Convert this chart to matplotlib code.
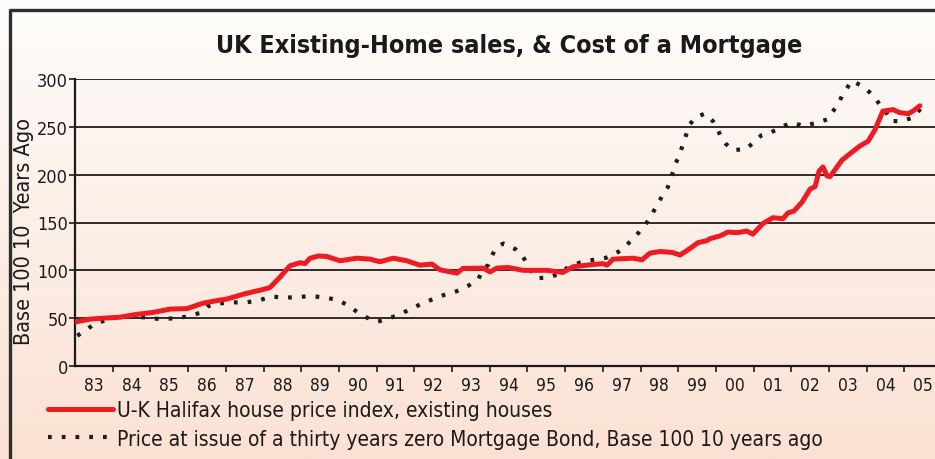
import numpy as np
import matplotlib
matplotlib.use('Agg')
import matplotlib.pyplot as plt
from matplotlib import font_manager as fm

# ---------------- data ----------------
red_t = [1983.00, 1983.40, 1983.74, 1984.19, 1984.64, 1985.07, 1985.52, 1985.97,
         1986.40, 1986.71, 1987.03, 1987.46, 1987.77, 1987.99, 1988.17, 1988.44,
         1988.70, 1988.97, 1989.10, 1989.23, 1989.45, 1989.68, 1990.03, 1990.48,
         1990.82, 1991.09, 1991.44, 1991.80, 1992.15, 1992.47, 1992.68, 1993.13,
         1993.29, 1993.82, 1994.01, 1994.19, 1994.49, 1994.88, 1995.52, 1995.94,
         1996.21, 1996.66, 1997.01, 1997.11, 1997.27, 1997.80, 1998.04, 1998.25,
         1998.52, 1998.84, 1999.05, 1999.31, 1999.53, 1999.76, 1999.84, 2000.11,
         2000.32, 2000.56, 2000.82, 2000.98, 2001.25, 2001.51, 2001.78, 2001.91,
         2002.07, 2002.28, 2002.50, 2002.63, 2002.74, 2002.84, 2002.95, 2003.03,
         2003.34, 2003.56, 2003.82, 2004.04, 2004.22, 2004.43, 2004.62, 2004.70,
         2004.88, 2005.10, 2005.23, 2005.41]
red_vals = [46, 49, 50, 51, 54, 56, 59.5, 60,
            65.7, 68, 70, 75, 78, 80, 82, 93,
            104.7, 108, 107, 112.5, 115, 114.5, 110, 112.7,
            111.7, 109, 112.7, 110, 105.4, 106.5, 100.6, 97,
            102, 102.3, 98.4, 102.3, 103, 100, 100, 97.8,
            103.7, 105.8, 107, 105.4, 111.7, 112.7, 111, 118,
            119.7, 118.7, 116, 122.8, 129, 131, 133, 136,
            140, 139.4, 141, 137.8, 149, 155, 154, 160,
            162, 171, 185, 187.5, 204, 208, 198.6, 198,
            215, 222, 230, 235, 247, 266.5, 267.5, 268,
            264.8, 263.7, 266.5, 272]

bond_t = [1983.06, 1983.31, 1983.53, 1983.87, 1984.19, 1984.52, 1984.88, 1985.25,
          1985.61, 1985.94, 1986.30, 1986.51, 1986.82, 1987.18, 1987.55, 1987.91,
          1988.22, 1988.57, 1988.94, 1989.29, 1989.68, 1990.00, 1990.28, 1990.50,
          1990.75, 1991.02, 1991.34, 1991.64, 1991.94, 1992.22, 1992.50, 1992.80,
          1993.12, 1993.43, 1993.70, 1993.80, 1993.96, 1994.05, 1994.16, 1994.36,
          1994.69, 1994.88, 1994.98, 1995.09, 1995.26, 1995.58, 1995.88, 1996.10,
          1996.40, 1996.75, 1997.08, 1997.41, 1997.61, 1997.81, 1997.97, 1998.13,
          1998.27, 1998.49, 1998.59, 1998.72, 1998.80, 1998.93, 1999.02, 1999.09,
          1999.16, 1999.31, 1999.46, 1999.71, 1999.92, 2000.04, 2000.13, 2000.26,
          2000.44, 2000.79, 2001.01, 2001.20, 2001.48, 2001.75, 2002.01, 2002.34,
          2002.67, 2002.96, 2003.09, 2003.25, 2003.34, 2003.47, 2003.60, 2003.87,
          2004.07, 2004.25, 2004.37, 2004.51, 2004.64, 2004.95, 2005.24, 2005.41,
          2005.52]
bond_vals = [31.6, 38, 44.5, 48.3, 51.5, 51.5, 50.8, 49,
             49.8, 51.5, 55.3, 62.3, 65.4, 66.5, 66.5, 69,
             72.7, 71.3, 72.3, 73, 71.3, 68.6, 62.3, 56,
             50.4, 46.2, 50, 54.3, 60.5, 65.4, 70, 74.4,
             78.1, 83.8, 90.8, 99.5, 105.8, 114.5, 122.9, 128,
             122, 114.5, 107.5, 99.5, 91.8, 92.6, 97, 104,
             108.2, 111, 113, 119.3, 125.6, 133.3, 140.2, 147.5,
             156.5, 171.5, 179, 186.5, 195, 211.6, 219.5, 227.5,
             236, 252.6, 260, 263.8, 256, 248, 239.8, 232.4,
             225.8, 226.5, 234, 241, 244.6, 250, 254.4, 250.8,
             254.4, 257.8, 265.5, 274, 282, 290, 298, 293,
             286.4, 278.7, 271.7, 265.5, 256, 256, 260, 268,
             275]

year_ticks = list(range(1984, 2006))
label_years = list(range(1983, 2006))
year_labels = ['83', '84', '85', '86', '87', '88', '89', '90', '91', '92', '93', '94',
               '95', '96', '97', '98', '99', '00', '01', '02', '03', '04', '05']
y_ticks = [0, 50, 100, 150, 200, 250, 300]

title = 'UK Existing-Home sales, & Cost of a Mortgage'
ylabel = 'Base 100 10  Years Ago'
red_label = 'U-K Halifax house price index, existing houses'
bond_label = 'Price at issue of a thirty years zero Mortgage Bond, Base 100 10 years ago'

# ---------------- fonts ----------------
names = {f.name for f in fm.fontManager.ttflist}
if 'Liberation Sans Narrow' in names:
    FONT = dict(family='Liberation Sans Narrow')
else:
    FONT = dict(family='DejaVu Sans', stretch='condensed')
plt.rcParams['font.family'] = FONT['family']
if 'stretch' in FONT:
    plt.rcParams['font.stretch'] = FONT['stretch']

W, H = 935, 460
fig = plt.figure(figsize=(W / 100, H / 100), dpi=100)

# background gradient
bg = fig.add_axes([0, 0, 1, 1], zorder=-10)
top_c = np.array([254, 253, 251]) / 255
mid_c = np.array([252, 239, 231]) / 255
bot_c = np.array([251, 225, 211]) / 255
n = 256
s = np.linspace(0, 1, n)[:, None]
grad = np.where(s < 0.5, top_c + (mid_c - top_c) * (s / 0.5), mid_c + (bot_c - mid_c) * ((s - 0.5) / 0.5))
grad = np.repeat(grad[:, None, :], 2, axis=1)
bg.imshow(grad, aspect='auto', extent=[0, 1, 0, 1], origin='upper')
bg.set_xlim(0, 1); bg.set_ylim(0, 1)
bg.axis('off')
# outer frame (top & left visible, right/bottom off image)
bg.plot([8.5 / W, 1.0], [1 - 10.5 / H] * 2, color='#2e2e2e', lw=2.4, solid_capstyle='butt')
bg.plot([9.5 / W] * 2, [0, 1 - 9.5 / H], color='#2e2e2e', lw=2.4, solid_capstyle='butt')

# main axes
x0, x1, y0, y1 = 75, 935, 80, 367
ax = fig.add_axes([x0 / W, 1 - y1 / H, (x1 - x0) / W, (y1 - y0) / H])
ax.patch.set_alpha(0)
ax.set_xlim(1983, 1983 + (x1 - x0) / 37.7)
ax.set_ylim(0, 300)

for v in y_ticks[1:]:
    ax.axhline(v, color='#2b2b2b', lw=1.4, zorder=1)

ax.plot(bond_t, bond_vals, color='#1e1e1e', lw=3.0, linestyle=(0, (0.9, 2.4)),
        zorder=3, label=bond_label)
ax.plot(red_t, red_vals, color='#ED1C24', lw=3.6, zorder=4, label=red_label,
        solid_joinstyle='round', solid_capstyle='round')

for sp in ['top', 'right']:
    ax.spines[sp].set_visible(False)
ax.spines['left'].set_color('#1a1a1a')
ax.spines['left'].set_linewidth(1.6)
ax.spines['bottom'].set_color('#1a1a1a')
ax.spines['bottom'].set_linewidth(1.6)

ax.set_xticks(year_ticks)
ax.set_xticklabels([])
ax.set_xticks([y + 0.5 for y in label_years], minor=True)
ax.set_xticklabels(year_labels, minor=True)
ax.tick_params(axis='x', which='major', length=4, width=1.2, direction='out', color='#1a1a1a')
ax.tick_params(axis='x', which='minor', length=0, pad=7, labelsize=12.5, labelcolor='#1a1a1a')

ax.set_yticks(y_ticks)
ax.set_yticklabels([str(v) for v in y_ticks])
ax.tick_params(axis='y', length=4, width=1.2, direction='out', pad=1, labelsize=13,
               labelcolor='#1a1a1a', color='#1a1a1a')

ax.set_ylabel(ylabel, fontsize=15.5, color='#1a1a1a')
ax.yaxis.set_label_coords((34 - x0) / (x1 - x0), (y1 - 232) / (y1 - y0))

fig.text(509 / W, 1 - 46 / H, title, ha='center', va='center', fontsize=18,
         fontweight='bold', color='#1a1a1a')

h_bond, h_red = ax.get_lines()[-2:]
leg = fig.legend([h_red, h_bond], [red_label, bond_label], loc='upper left',
                 bbox_to_anchor=(48 / W, 1 - 401 / H), frameon=False, fontsize=15,
                 handlelength=3.1, handletextpad=0.2, labelspacing=0.42,
                 borderaxespad=0, borderpad=0)
for t in leg.get_texts():
    t.set_color('#1a1a1a')

fig.savefig('out.png', dpi=100)
